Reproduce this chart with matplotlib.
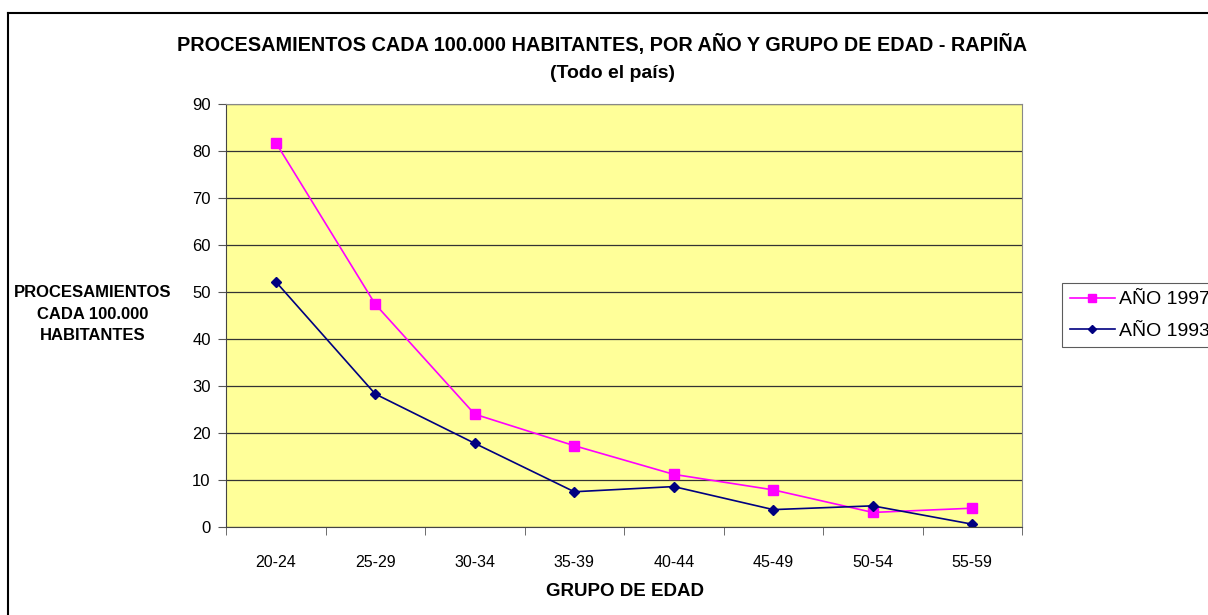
import matplotlib
matplotlib.use("Agg")
import matplotlib.pyplot as plt
from matplotlib.lines import Line2D

categories = ["20-24", "25-29", "30-34", "35-39", "40-44", "45-49", "50-54", "55-59"]
anio_1997 = [81.8, 47.4, 24.0, 17.3, 11.2, 7.9, 3.1, 4.0]
anio_1993 = [52.2, 28.3, 17.8, 7.5, 8.6, 3.7, 4.5, 0.6]
yticks = [0, 10, 20, 30, 40, 50, 60, 70, 80, 90]

plt.rcParams['font.family'] = ['Liberation Sans', 'DejaVu Sans']

fig = plt.figure(figsize=(12.08, 6.15), dpi=100)
# outer chart border (top and left visible)
fig.add_artist(Line2D([8/1208, 8/1208], [0, 1 - 12.5/615], transform=fig.transFigure, color='black', linewidth=1.5))
fig.add_artist(Line2D([8/1208, 1.0], [1 - 12.5/615, 1 - 12.5/615], transform=fig.transFigure, color='black', linewidth=1.5))

ax = fig.add_axes([226/1208, 1 - 527/615, (1022 - 226)/1208, (527 - 104)/615])
ax.set_facecolor('#FFFF99')

x = list(range(len(categories)))
ax.plot(x, anio_1997, color='#FF00FF', marker='s', markersize=6.5, linewidth=1.2, label='AÑO 1997')
ax.plot(x, anio_1993, color='#000080', marker='D', markersize=5.5, linewidth=1.2, label='AÑO 1993')

ax.set_xlim(-0.5, len(categories) - 0.5)
ax.set_ylim(0, 90)
ax.set_yticks(yticks)
ax.set_yticklabels([str(v) for v in yticks], fontsize=12)
ax.set_xticks(x)
ax.set_xticklabels(categories, fontsize=11.5)
ax.set_xticks([i - 0.5 for i in range(len(categories) + 1)], minor=True)
ax.tick_params(axis='x', which='major', length=0, pad=20)
ax.tick_params(axis='x', which='minor', length=6, direction='out', color='#555555')
ax.tick_params(axis='y', length=6, direction='out', color='#555555', pad=5)
ax.yaxis.grid(True, color='#333333', linewidth=0.9)
ax.set_axisbelow(True)
for s in ['top', 'right']:
    ax.spines[s].set_color('#888888')
for s in ['left', 'bottom']:
    ax.spines[s].set_color('#444444')

fig.text(602/1208, 1 - 45/615, 'PROCESAMIENTOS CADA 100.000 HABITANTES, POR AÑO Y GRUPO DE EDAD - RAPIÑA',
         ha='center', va='center', fontsize=14.3, fontweight='bold')
fig.text(612/1208, 1 - 73/615, '(Todo el país)', ha='center', va='center', fontsize=14, fontweight='bold')
fig.text(93/1208, 1 - 314/615, 'PROCESAMIENTOS\nCADA 100.000\nHABITANTES', ha='center', va='center',
         fontsize=12, fontweight='bold', linespacing=1.55)
fig.text(625/1208, 1 - 592/615, 'GRUPO DE EDAD', ha='center', va='center', fontsize=13.5, fontweight='bold')

leg = fig.legend(loc='upper left', bbox_to_anchor=(1062/1208, 1 - 283/615), frameon=True, fancybox=False,
                 edgecolor='#333333', fontsize=14, handlelength=2.3, borderpad=0.4, handletextpad=0.25,
                 labelspacing=0.7, markerscale=0.8, borderaxespad=0)
leg.get_frame().set_linewidth(0.8)

fig.savefig('out.png', dpi=100)
